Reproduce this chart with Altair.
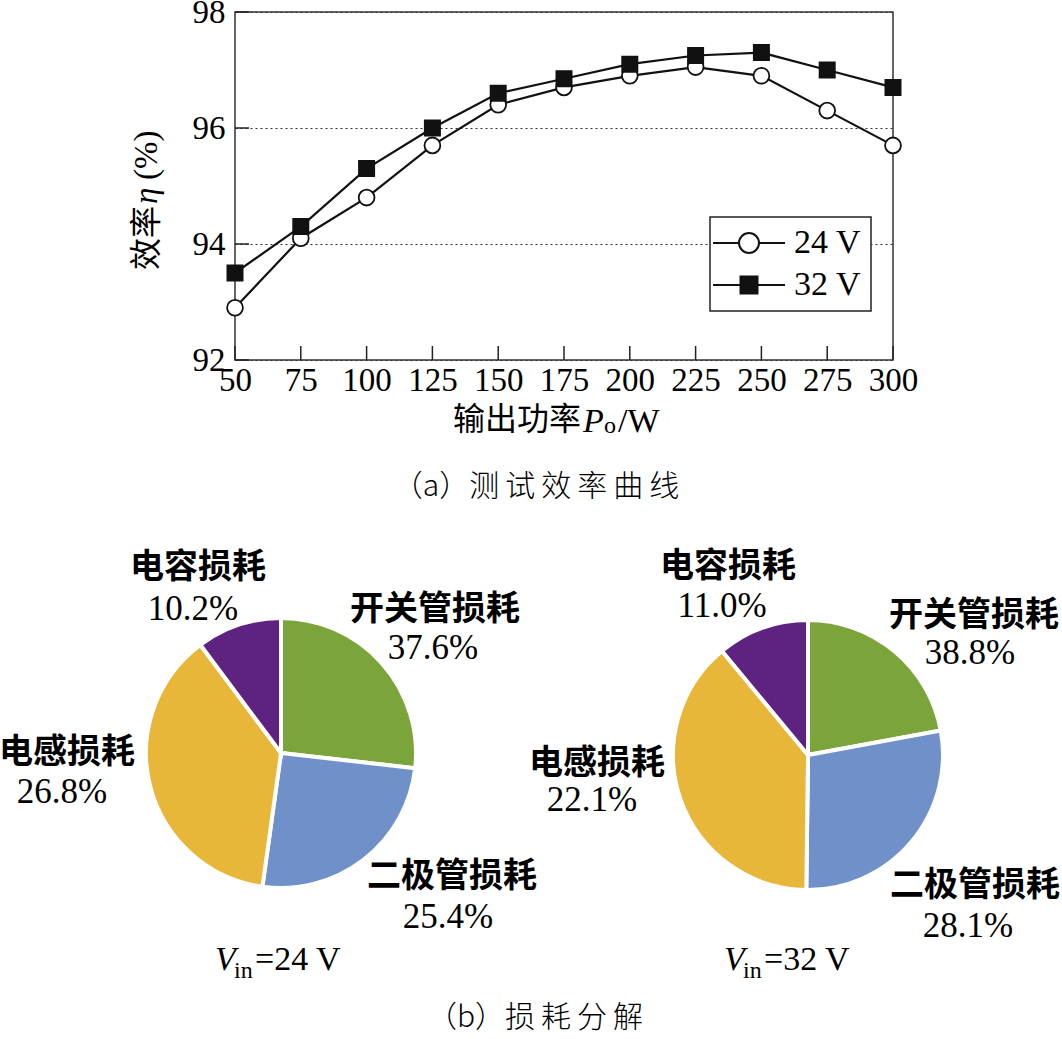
import altair as alt
import pandas as pd

# ---------------- data ----------------
power_w = [50, 75, 100, 125, 150, 175, 200, 225, 250, 275, 300]
eff_24v = [92.9, 94.1, 94.8, 95.7, 96.4, 96.7, 96.9, 97.05, 96.9, 96.3, 95.7]
eff_32v = [93.5, 94.3, 95.3, 96.0, 96.6, 96.85, 97.1, 97.25, 97.3, 97.0, 96.7]
series_names = ["24 V", "32 V"]
x_ticks = [50, 75, 100, 125, 150, 175, 200, 225, 250, 275, 300]
y_ticks = [92, 94, 96, 98]

loss_names = ["开关管损耗", "二极管损耗", "电感损耗", "电容损耗"]
pct_24 = [37.6, 25.4, 26.8, 10.2]          # printed labels, Vin = 24 V
pct_32 = [38.8, 28.1, 22.1, 11.0]          # printed labels, Vin = 32 V
slice_24 = [26.8, 25.4, 37.6, 10.2]        # slice sizes as drawn (green, blue, yellow, purple)
slice_32 = [22.1, 28.1, 38.8, 11.0]
vin_text = ["=24 V", "=32 V"]
caption_a = "（a）测试效率曲线"
caption_b = "（b）损耗分解"
y_title_parts = ["效率", "η", "(%)"]
x_title_parts = ["输出功率", "P", "o", "/W"]

# ---------------- style ----------------
SERIF = "Liberation Serif"
CJK = "Noto Sans CJK SC"
slice_colors = ["#7BA53B", "#6F90C9", "#E8B638", "#5E2381"]
W, H = 658, 348

eff_df = pd.DataFrame({
    "power": power_w * 2,
    "eff": eff_24v + eff_32v,
    "series": [series_names[0]] * len(power_w) + [series_names[1]] * len(power_w),
})

x_enc = alt.X("power:Q", scale=alt.Scale(domain=[50, 300], nice=False, zero=False),
              axis=alt.Axis(values=x_ticks, title=None, ticks=False, domain=False, grid=False,
                            labelFont=SERIF, labelFontSize=33, labelPadding=4, labelColor="black",
                            labelOverlap=False, labelFlush=False))
y_enc = alt.Y("eff:Q", scale=alt.Scale(domain=[92, 98], nice=False, zero=False),
              axis=alt.Axis(values=y_ticks, title=None, ticks=False, domain=False, grid=True,
                            gridDash=[2, 3], gridColor="#333", gridWidth=1,
                            labelFont=SERIF, labelFontSize=33, labelPadding=10, labelColor="black"))

layers = []

# inward tick marks
layers.append(alt.Chart(pd.DataFrame({"power": x_ticks})).mark_rule(color="#222", strokeWidth=1.5)
              .encode(x=x_enc, y=alt.value(H), y2=alt.value(H - 14)))
layers.append(alt.Chart(pd.DataFrame({"eff": y_ticks})).mark_rule(color="#222", strokeWidth=1.5)
              .encode(y=y_enc, x=alt.value(0), x2=alt.value(14)))

# lines
layers.append(alt.Chart(eff_df).mark_line(color="#111", strokeWidth=2.2)
              .encode(x=x_enc, y=y_enc, detail="series:N"))
# markers
layers.append(alt.Chart(eff_df).transform_filter(alt.datum.series == series_names[0])
              .mark_point(shape="circle", size=250, filled=True, fill="white", stroke="#111",
                          strokeWidth=1.8, opacity=1)
              .encode(x=x_enc, y=y_enc))
layers.append(alt.Chart(eff_df).transform_filter(alt.datum.series == series_names[1])
              .mark_point(shape="square", size=240, filled=True, fill="#111", stroke="#111",
                          strokeWidth=1.5, opacity=1)
              .encode(x=x_enc, y=y_enc))

# legend (invisible layer that only carries the legend)
legend_paths = ["M-3.6,0H-1M1,0H3.6M1,0A1,1,0,1,1,-1,0A1,1,0,1,1,1,0Z",
                "M-3.6,0H3.6M-0.85,-0.85H0.85V0.85H-0.85Z"]
leg = alt.Legend(title=None, orient="none", legendX=475, legendY=205, strokeColor="#222",
                 padding=9, symbolSize=400, symbolStrokeWidth=2, symbolOpacity=1,
                 symbolOffset=13, labelOffset=28, labelFont=SERIF, labelFontSize=34,
                 labelColor="black", rowPadding=8, fillColor="white", labelLimit=0)
layers.append(alt.Chart(eff_df).mark_point(filled=True, opacity=0, stroke="#111", strokeWidth=2)
              .encode(x=x_enc, y=y_enc,
                      shape=alt.Shape("series:N", scale=alt.Scale(domain=series_names, range=legend_paths), legend=leg),
                      fill=alt.Fill("series:N", scale=alt.Scale(domain=series_names, range=["white", "#111"]), legend=leg)))


def txt(text, x, y, size, font=SERIF, align="left", baseline="alphabetic", style=None, weight=None, angle=None):
    kw = dict(fontSize=size, font=font, align=align, baseline=baseline, color="black")
    if style:
        kw["fontStyle"] = style
    if weight:
        kw["fontWeight"] = weight
    if angle is not None:
        kw["angle"] = angle
    return alt.Chart(pd.DataFrame({"t": [text]})).mark_text(**kw).encode(
        text="t:N", x=alt.value(x), y=alt.value(y))


# y axis title (rotated)
layers.append(txt(y_title_parts[0], -88, 258, 32, font=CJK, baseline="middle", angle=270))
layers.append(txt(y_title_parts[1], -88, 192, 33, font=SERIF, style="italic", baseline="middle", angle=270))
layers.append(txt(y_title_parts[2], -88, 168, 33, font=SERIF, baseline="middle", angle=270))

# x axis title
layers.append(txt(x_title_parts[0], 346, 418, 32, font=CJK, align="right"))
layers.append(txt(x_title_parts[1], 348, 420, 34, style="italic"))
layers.append(txt(x_title_parts[2], 369, 421, 24))
layers.append(txt(x_title_parts[3], 383, 420, 34))

# captions
def spaced(s):
    head, tail = s[:3], s[3:]
    return head + "\u2009".join(tail)

layers.append(txt(spaced(caption_a), 301, 475, 30, font=CJK, align="center", baseline="middle", weight=300))
layers.append(txt(spaced(caption_b), 300, 1006, 30, font=CJK, align="center", baseline="middle", weight=300))

# ---------------- pies ----------------
pies = [
    dict(slices=slice_24, pct=pct_24, cx=46, cy=741, vin=vin_text[0], vx=-20,
         name_off=[(154, -143), (171, 124), (-214, 0), (-83, -185)],
         pct_off=[(152, -105), (167, 164), (-219, 39), (-88, -144)]),
    dict(slices=slice_32, pct=pct_32, cx=573, cy=743, vin=vin_text[1], vx=489,
         name_off=[(166, -139), (167, 131), (-211, 9), (-80, -188)],
         pct_off=[(162, -102), (160, 171), (-216, 45), (-86, -149)]),
]

for p in pies:
    df = pd.DataFrame({"cat": loss_names, "value": p["slices"], "k": list(range(len(loss_names)))})
    layers.append(
        alt.Chart(df)
        .transform_stack(stack="value", groupby=[], as_=["t0", "t1"], sort=[alt.SortField("k", order="ascending")])
        .mark_arc(outerRadius=135, stroke="white", strokeWidth=4)
        .encode(theta=alt.Theta("t0:Q", scale=alt.Scale(domain=[0, 100])), theta2="t1:Q",
                color=alt.Color("cat:N", scale=alt.Scale(domain=loss_names, range=slice_colors), legend=None),
                x=alt.value(p["cx"]), y=alt.value(p["cy"]))
    )
    for i, name in enumerate(loss_names):
        nx, ny = p["name_off"][i]
        px, py = p["pct_off"][i]
        layers.append(txt(name, p["cx"] + nx, p["cy"] + ny, 34, font=CJK, align="center",
                          baseline="middle", weight="bold"))
        layers.append(txt(f"{p['pct'][i]:.1f}%", p["cx"] + px, p["cy"] + py, 35, align="center",
                          baseline="middle"))
    layers.append(txt("V", p["vx"], 958, 34, style="italic"))
    layers.append(txt("in", p["vx"] + 19, 966, 24))
    layers.append(txt(p["vin"], p["vx"] + 40, 958, 34))

chart = (
    alt.layer(*layers)
    .properties(width=W, height=H, autosize=alt.AutoSizeParams(type="none"),
                padding={"left": 235, "top": 12, "right": 1062 - 235 - W, "bottom": 1039 - 12 - H},
                background="white")
    .configure_view(stroke="#333", strokeWidth=1.5)
    .configure_legend(strokeWidth=1.5)
)

chart.save("out.html", embed_options={"renderer": "svg", "actions": False})
